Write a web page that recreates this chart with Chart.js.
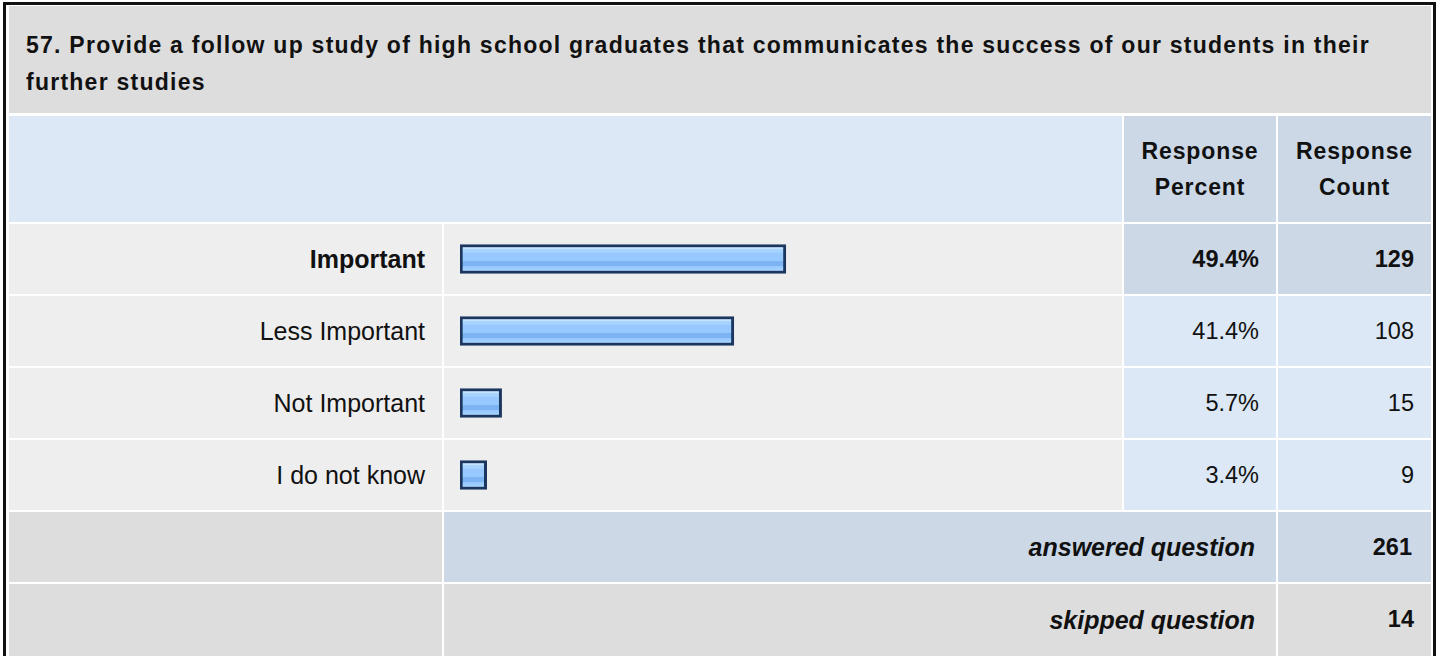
<!DOCTYPE html>
<html>
<head>
<meta charset="utf-8">
<script src="https://cdn.jsdelivr.net/npm/chart.js@4.4.1/dist/chart.umd.min.js"></script>
<style>
  html, body { margin:0; padding:0; background:#ffffff; width:1437px; height:656px; overflow:hidden; }
  body { font-family: "Liberation Sans", Arial, sans-serif; color:#111; position:relative; }
  #frame { position:absolute; left:3px; top:2px; width:1427px; height:700px; border:3px solid #111; box-sizing:content-box; background:#fff; }
  .cell { position:absolute; box-sizing:border-box; display:flex; align-items:center; }
  .r { justify-content:flex-end; padding-right:17px; }
  .c { justify-content:center; text-align:center; }
  #title { position:absolute; left:9px; top:6px; width:1422px; height:107px; background:#dddddd; box-sizing:border-box;
           padding:21px 0 0 17px; font-weight:bold; font-size:23px; line-height:37px; letter-spacing:1.25px; color:#111; }
  .hdr { font-weight:bold; font-size:23px; line-height:36.5px; letter-spacing:0.9px; }
  .lbl { font-size:25px; }
  .num { font-size:23.5px; }
  .b { font-weight:bold; }
  .bi { font-weight:bold; font-style:italic; font-size:25px; }
  #chartWrap { position:absolute; left:444px; top:223px; width:678px; height:288px; }
</style>
</head>
<body>
<div id="frame"></div>
<div id="title">57. Provide a follow up study of high school graduates that communicates the success of our students in their<br>further studies</div>
<div id="cells"></div>
<div id="chartWrap"><canvas id="chart" width="678" height="288"></canvas></div>
<script>
// ---- data ----
const categories = ["Important", "Less Important", "Not Important", "I do not know"];
const responsePercent = [49.4, 41.4, 5.7, 3.4];
const responseCount = [129, 108, 15, 9];
const answeredQuestion = 261;
const skippedQuestion = 14;
const headerLabels = ["Response\nPercent", "Response\nCount"];
const summaryLabels = ["answered question", "skipped question"];

// ---- layout helpers (table cells) ----
const COLS = { a:[9,433], b:[444,678], c:[1124,152], d:[1278,153] };
const cellsEl = document.getElementById('cells');
function cell(x, w, y, h, bg, cls, html) {
  const d = document.createElement('div');
  d.className = 'cell ' + (cls || '');
  d.style.left = x + 'px'; d.style.top = y + 'px';
  d.style.width = w + 'px'; d.style.height = h + 'px';
  d.style.background = bg;
  if (html !== undefined) d.innerHTML = html;
  cellsEl.appendChild(d);
  return d;
}
const GREY = '#dddddd', LIGHT = '#eeeeee', BLUE = '#dce8f5', BLUE2 = '#ccd8e6';

// header row
cell(COLS.a[0], COLS.b[0] + COLS.b[1] - COLS.a[0], 116, 106, BLUE, '');
cell(COLS.c[0], COLS.c[1], 116, 106, BLUE2, 'c hdr', headerLabels[0].replace('\n', '<br>'));
cell(COLS.d[0], COLS.d[1], 116, 106, BLUE2, 'c hdr', headerLabels[1].replace('\n', '<br>'));

// answer rows
categories.forEach((cat, i) => {
  const y = 224 + i * 72;
  const bold = i === 0;
  cell(COLS.a[0], COLS.a[1], y, 70, LIGHT, 'r lbl' + (bold ? ' b' : ''), cat);
  cell(COLS.b[0], COLS.b[1], y, 70, LIGHT, '');
  cell(COLS.c[0], COLS.c[1], y, 70, bold ? BLUE2 : BLUE, 'r num' + (bold ? ' b' : ''), responsePercent[i].toFixed(1) + '%');
  cell(COLS.d[0], COLS.d[1], y, 70, bold ? BLUE2 : BLUE, 'r num' + (bold ? ' b' : ''), String(responseCount[i]));
});

// summary rows
const yA = 224 + 4 * 72, yS = 224 + 5 * 72;
cell(COLS.a[0], COLS.a[1], yA, 70, GREY, '');
cell(COLS.b[0], COLS.c[0] + COLS.c[1] - COLS.b[0], yA, 70, BLUE2, 'r bi', summaryLabels[0]).style.paddingRight = '21px';
cell(COLS.d[0], COLS.d[1], yA, 70, BLUE2, 'r num b', String(answeredQuestion)).style.paddingRight = '19px';
cell(COLS.a[0], COLS.a[1], yS, 80, GREY, '');
cell(COLS.b[0], COLS.c[0] + COLS.c[1] - COLS.b[0], yS, 80, GREY, 'r bi', summaryLabels[1]).style.paddingRight = '21px';
cell(COLS.d[0], COLS.d[1], yS, 80, GREY, 'r num b', String(skippedQuestion));
Array.from(cellsEl.children).slice(-2).forEach(d => { d.style.alignItems = 'flex-start'; d.style.paddingTop = '22px'; });

// ---- bar chart ----
const BAR_H = 29;
function barFill(ctx) {
  const chart = ctx.chart;
  const ys = chart.scales && chart.scales.y;
  if (!ys || !chart.chartArea) return '#99ccff';
  const cy = ys.getPixelForValue(ctx.dataIndex);
  const top = cy - BAR_H / 2, bot = cy + BAR_H / 2;
  const g = chart.ctx.createLinearGradient(0, top, 0, bot);
  g.addColorStop(0.00, '#d4ecff');
  g.addColorStop(0.14, '#c4e3ff');
  g.addColorStop(0.15, '#aad6ff');
  g.addColorStop(0.30, '#a0d0ff');
  g.addColorStop(0.31, '#97c9ff');
  g.addColorStop(0.56, '#97c9ff');
  g.addColorStop(0.57, '#7cb3f3');
  g.addColorStop(0.74, '#7cb3f3');
  g.addColorStop(0.75, '#96c8ff');
  g.addColorStop(0.88, '#a2d1ff');
  g.addColorStop(1.00, '#a8d4ff');
  return g;
}

new Chart(document.getElementById('chart'), {
  type: 'bar',
  data: {
    labels: categories,
    datasets: [{
      data: responsePercent,
      base: -0.7,
      barThickness: BAR_H,
      backgroundColor: barFill,
      borderColor: '#1c375f',
      borderWidth: 3,
      borderSkipped: false
    }]
  },
  options: {
    indexAxis: 'y',
    responsive: false,
    maintainAspectRatio: false,
    animation: false,
    events: [],
    layout: { padding: { left: 16, right: 7, top: 0, bottom: 0 } },
    scales: {
      x: { display: false, min: -0.7, max: 100 },
      y: { display: false }
    },
    plugins: { legend: { display: false }, tooltip: { enabled: false } }
  }
});
</script>
</body>
</html>
